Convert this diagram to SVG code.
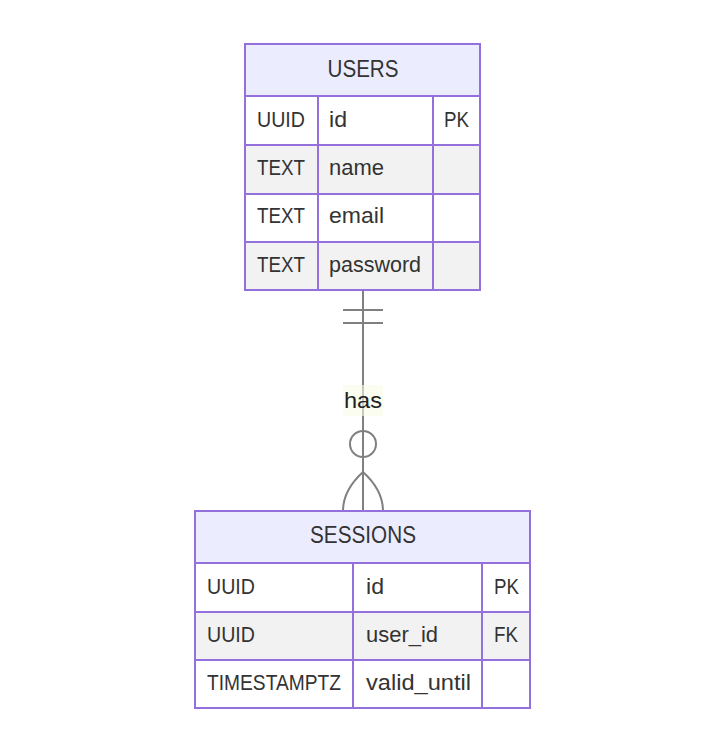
<svg xmlns="http://www.w3.org/2000/svg" width="726" height="753" viewBox="0 0 726 753">
<style>
.box{stroke:#9370DB;stroke-width:2}
.hdr{fill:#ECECFF}
.odd{fill:#ffffff}
.even{fill:#f2f2f2}
.div{stroke:#9370DB;stroke-width:2;fill:none}
.t{font-family:"Liberation Sans",Arial,sans-serif;font-size:22px;fill:#333333}
.h{font-family:"Liberation Sans",Arial,sans-serif;font-size:24px;fill:#333333}
.ln{stroke:#808080;stroke-width:2;fill:none}
</style>
<rect width="726" height="753" fill="#ffffff"/>
<g id="connectors">
<line class="ln" x1="363" y1="290" x2="363" y2="511"/>
<line class="ln" x1="343" y1="310" x2="383" y2="310"/>
<line class="ln" x1="343" y1="323" x2="383" y2="323"/>
<circle class="ln" cx="363" cy="444" r="13" fill="#ffffff"/>
<path class="ln" d="M343,511 C343,495 352,482 363,472 C374,482 383,495 383,511"/>
<rect x="343" y="385" width="40" height="31" fill="#f6fbe6" opacity="0.6"/>
<text class="t" x="344" y="407.5" textLength="38" lengthAdjust="spacingAndGlyphs" style="fill:#222">has</text>
</g>
<g id="USERS">
<rect class="box hdr" x="245" y="44" width="235" height="52"/>
<rect class="box odd" x="245" y="96" width="235" height="49"/>
<rect class="box even" x="245" y="145" width="235" height="49"/>
<rect class="box odd" x="245" y="194" width="235" height="48"/>
<rect class="box even" x="245" y="242" width="235" height="48"/>
<line class="div" x1="318" y1="96" x2="318" y2="290"/>
<line class="div" x1="433" y1="96" x2="433" y2="290"/>
<text class="h" x="327.5" y="77" textLength="71" lengthAdjust="spacingAndGlyphs">USERS</text>
<text class="t" x="257" y="127" textLength="48" lengthAdjust="spacingAndGlyphs">UUID</text>
<text class="t" x="329" y="127" textLength="18" lengthAdjust="spacingAndGlyphs">id</text>
<text class="t" x="444" y="127" textLength="25" lengthAdjust="spacingAndGlyphs">PK</text>
<text class="t" x="257" y="175" textLength="48" lengthAdjust="spacingAndGlyphs">TEXT</text>
<text class="t" x="329" y="175" textLength="55" lengthAdjust="spacingAndGlyphs">name</text>
<text class="t" x="257" y="223" textLength="48" lengthAdjust="spacingAndGlyphs">TEXT</text>
<text class="t" x="329" y="223" textLength="55" lengthAdjust="spacingAndGlyphs">email</text>
<text class="t" x="257" y="271.5" textLength="48" lengthAdjust="spacingAndGlyphs">TEXT</text>
<text class="t" x="329" y="271.5" textLength="92" lengthAdjust="spacingAndGlyphs">password</text>
</g>
<g id="SESSIONS">
<rect class="box hdr" x="195" y="511" width="335" height="52"/>
<rect class="box odd" x="195" y="563" width="335" height="49"/>
<rect class="box even" x="195" y="612" width="335" height="48"/>
<rect class="box odd" x="195" y="660" width="335" height="48"/>
<line class="div" x1="353" y1="563" x2="353" y2="708"/>
<line class="div" x1="482" y1="563" x2="482" y2="708"/>
<text class="h" x="310" y="543" textLength="106" lengthAdjust="spacingAndGlyphs">SESSIONS</text>
<text class="t" x="207" y="594" textLength="48" lengthAdjust="spacingAndGlyphs">UUID</text>
<text class="t" x="366" y="594" textLength="18" lengthAdjust="spacingAndGlyphs">id</text>
<text class="t" x="494" y="594" textLength="25" lengthAdjust="spacingAndGlyphs">PK</text>
<text class="t" x="207" y="642" textLength="48" lengthAdjust="spacingAndGlyphs">UUID</text>
<text class="t" x="366" y="642" textLength="72" lengthAdjust="spacingAndGlyphs">user_id</text>
<text class="t" x="494" y="642" textLength="24" lengthAdjust="spacingAndGlyphs">FK</text>
<text class="t" x="207" y="690" textLength="134" lengthAdjust="spacingAndGlyphs">TIMESTAMPTZ</text>
<text class="t" x="366" y="690" textLength="105" lengthAdjust="spacingAndGlyphs">valid_until</text>
</g>
</svg>
